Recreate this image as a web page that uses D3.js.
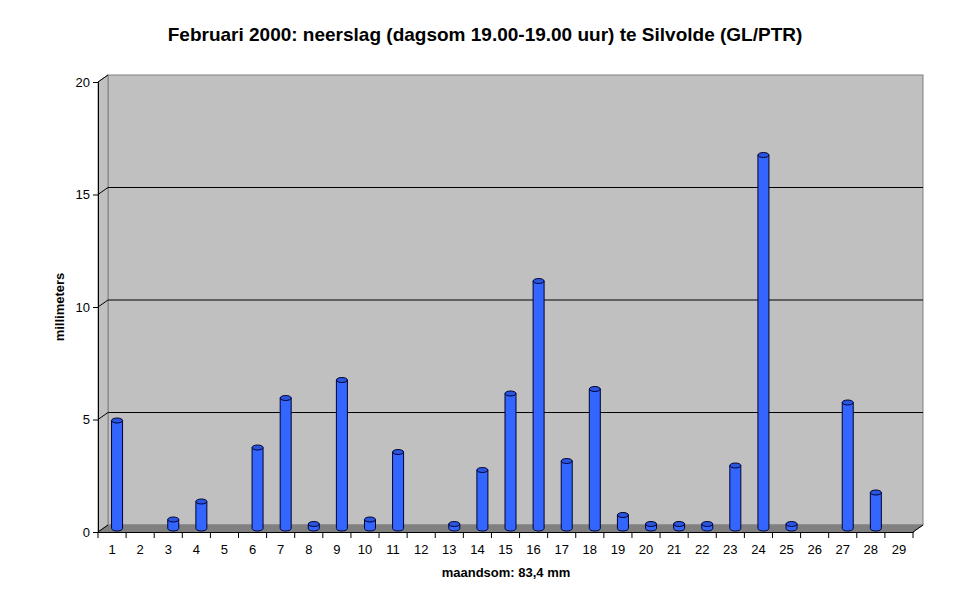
<!DOCTYPE html>
<html><head><meta charset="utf-8">
<script src="https://cdn.jsdelivr.net/npm/d3@7"></script>
<style>body{margin:0;background:#fff}svg{display:block}text{font-family:Arial,"Liberation Sans",sans-serif}</style>
</head><body><svg id="c" width="970" height="604"></svg>
<script>
const days = d3.range(1, 30).map(String);
const rainfall = [4.8,0,0.4,1.2,0,3.6,5.8,0.2,6.6,0.4,3.4,0,0.2,2.6,6.0,11.0,3.0,6.2,0.6,0.2,0.2,0.2,2.8,16.6,0.2,0,5.6,1.6,0];
const yTicks = [0,5,10,15,20];
const title = "Februari 2000: neerslag (dagsom 19.00-19.00 uur) te Silvolde (GL/PTR)";
const yTitle = "millimeters";
const xTitle = "maandsom: 83,4 mm";

const svg = d3.select("#c");
const x = d3.scaleBand().domain(days).range([98, 913]);
const y = d3.scaleLinear().domain([0, 20]).range([532, 82]);
const dx = 10, dy = -7;

// back wall
svg.append("rect").attr("x", x.range()[0]+dx).attr("y", y(20)+dy)
  .attr("width", x.range()[1]-x.range()[0]).attr("height", y(0)-y(20))
  .attr("fill", "#c0c0c0").attr("stroke", "#808080");
// side wall
svg.append("polygon").attr("points", [[98,y(0)],[98,y(20)],[98+dx,y(20)+dy],[98+dx,y(0)+dy]].join(" "))
  .attr("fill", "#c0c0c0").attr("stroke", "#808080");
// floor
svg.append("polygon").attr("points", [[98,y(0)],[913,y(0)],[913+dx,y(0)+dy],[98+dx,y(0)+dy]].join(" "))
  .attr("fill", "#808080").attr("stroke", "#808080");

// gridlines
yTicks.filter(v => v > 0 && v < 20).forEach(v => {
  svg.append("line").attr("x1", 98+dx).attr("x2", 913+dx).attr("y1", y(v)+dy).attr("y2", y(v)+dy).attr("stroke", "#000");
});
yTicks.forEach(v => {
  svg.append("line").attr("x1", 98).attr("x2", 98+dx).attr("y1", y(v)).attr("y2", y(v)+dy).attr("stroke", "#000");
});

// y axis
const ya = svg.append("g").attr("transform", "translate(98,0)")
  .call(d3.axisLeft(y).tickValues(yTicks).tickSize(5).tickPadding(3));
ya.select(".domain").attr("stroke", "#000");
ya.selectAll("text").attr("font-size", 13).attr("font-family", "Arial, Liberation Sans").attr("fill", "#000");

// x axis
const xa = svg.append("g").attr("transform", `translate(0,${y(0)})`)
  .call(d3.axisBottom(x).tickSize(0).tickPadding(13));
xa.select(".domain").attr("stroke", "#000");
xa.selectAll("text").attr("font-size", 13).attr("font-family", "Arial, Liberation Sans").attr("fill", "#000");
days.concat(["end"]).forEach((d, i) => {
  const xx = i < days.length ? x(d) : x.range()[1];
  svg.append("line").attr("x1", xx).attr("x2", xx).attr("y1", y(0)).attr("y2", y(0)+6).attr("stroke", "#000");
});
// right edge diagonal
svg.append("line").attr("x1", 913).attr("x2", 913+dx).attr("y1", y(0)).attr("y2", y(0)+dy).attr("stroke", "#000");

// bars (cylinders)
const bw = 11, ry = 2.5;
const bars = svg.append("g");
days.forEach((d, i) => {
  const v = rainfall[i];
  if (v <= 0) return;
  const cx = x(d) + x.bandwidth()/2 + dx/2;
  const yb = y(0) + dy/2, yt = y(v) + dy/2;
  const l = cx - bw/2, r = cx + bw/2;
  bars.append("path")
    .attr("d", `M${l},${yt} L${l},${yb} A${bw/2},${ry} 0 0 0 ${r},${yb} L${r},${yt} Z`)
    .attr("fill", "#3366ff").attr("stroke", "#000033").attr("stroke-width", 1);
  bars.append("ellipse").attr("cx", cx).attr("cy", yt).attr("rx", bw/2).attr("ry", ry)
    .attr("fill", "#2a55dd").attr("stroke", "#000033").attr("stroke-width", 1);
});

// titles
svg.append("text").attr("x", 485).attr("y", 41).attr("text-anchor", "middle")
  .attr("font-size", 19).attr("font-weight", "bold").text(title);
svg.append("text").attr("transform", "translate(64,307) rotate(-90)").attr("text-anchor", "middle")
  .attr("font-size", 13).attr("font-weight", "bold").text(yTitle);
svg.append("text").attr("x", 506).attr("y", 577).attr("text-anchor", "middle")
  .attr("font-size", 13).attr("font-weight", "bold").text(xTitle);
</script></body></html>
